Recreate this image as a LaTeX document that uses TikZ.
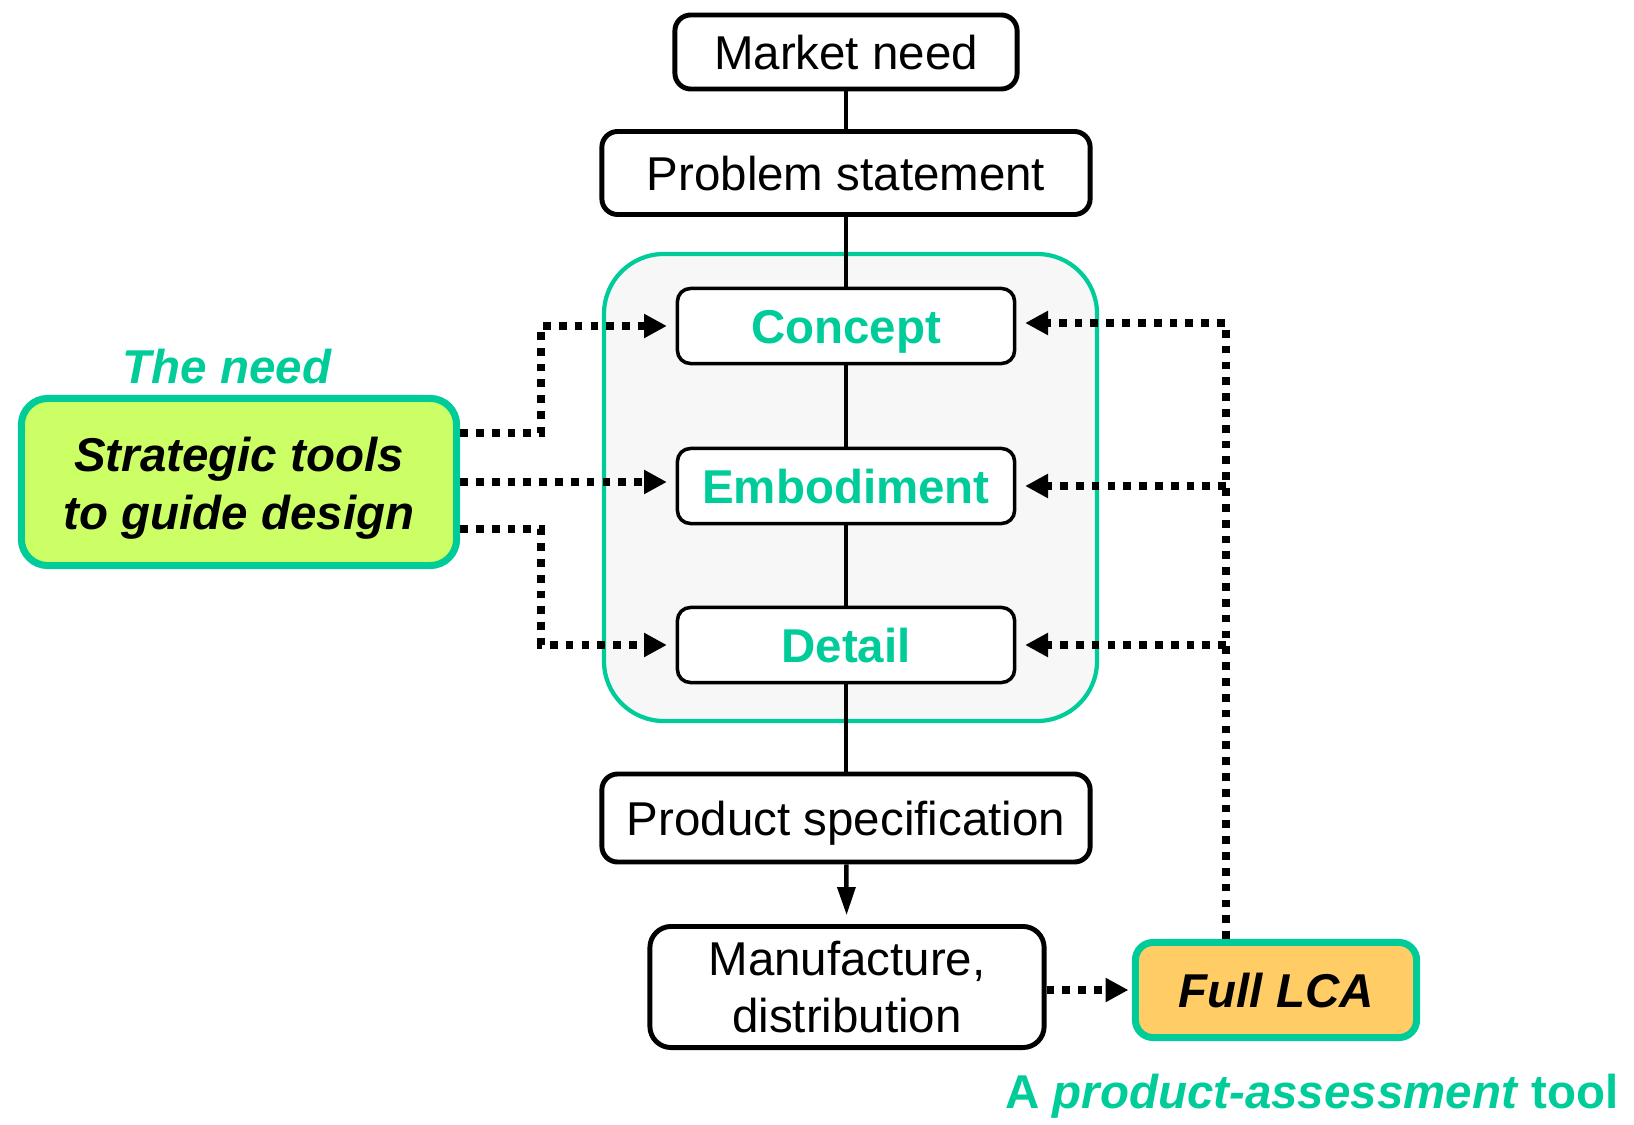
\documentclass[tikz,border=0pt]{standalone}
\usepackage{fontspec}
\setmainfont{Liberation Sans}
\usetikzlibrary{arrows.meta,positioning}

\definecolor{lcagreen}{RGB}{0,204,153}
\definecolor{limefill}{RGB}{204,255,102}
\definecolor{orangefill}{RGB}{255,204,102}
\definecolor{panelgrey}{RGB}{247,247,247}

\newcommand{\diagfont}{\fontsize{13.5pt}{16pt}\selectfont}

\tikzset{
  stepbox/.style={draw, line width=1.4pt, rounded corners=4.5pt, fill=white,
    align=center, inner sep=0pt, font=\diagfont},
  oneline/.style={text height=9.9pt, text depth=0pt},
  stagebox/.style={draw, line width=1pt, rounded corners=3.7pt, fill=white,
    inner sep=0pt, minimum width=3.37cm, minimum height=0.75cm, oneline,
    text=lcagreen, font=\diagfont\bfseries},
  toolbox/.style={draw=lcagreen, line width=2pt, align=center, inner sep=0pt,
    font=\diagfont\bfseries\itshape},
  greenlabel/.style={text=lcagreen, inner sep=0pt, font=\diagfont\bfseries},
  link/.style={line width=1.3pt},
  feed/.style={line width=2.2pt, dash pattern=on 2.2pt off 2.3pt,
    -{Triangle[length=6.5pt,width=6.5pt]}, shorten >=2.5pt}
}

\begin{document}
\begin{tikzpicture}[x=0.01cm, y=-0.01cm]
    \useasboundingbox (0,0) rectangle (1634,1125);

    \def \cx {846} % x of the main column

    % design stages panel
    \draw[draw=lcagreen, line width=1.2pt, fill=panelgrey, rounded corners=17pt]
      (604,254) rectangle (1097,721);

    \node[stepbox, oneline, minimum width=3.42cm, minimum height=0.74cm] (market) at (\cx,52) {Market need};
    \node[stepbox, oneline, minimum width=4.88cm, minimum height=0.83cm] (problem) at (\cx,173) {Problem statement};

    \foreach \name/\y/\txt in {concept/326/Concept, embod/486/Embodiment, detail/645/Detail}
    {
      \node[stagebox] (\name) at (\cx,\y) {\txt};
    }

    \node[stepbox, oneline, minimum width=4.88cm, minimum height=0.88cm] (spec) at (\cx,818) {Product specification};
    \node[stepbox, minimum width=3.94cm, minimum height=1.21cm, rounded corners=6pt] (manuf) at (847,987)
      {Manufacture,\\distribution};

    \node[toolbox, fill=limefill, rounded corners=7.5pt, minimum width=4.35cm, minimum height=1.67cm]
      (tools) at (239,482) {\raisebox{-5.4pt}[0pt][0pt]{\parbox{4cm}{\centering\baselineskip=16.5pt Strategic tools\\to guide design}}};
    \node[greenlabel] (needlabel) at (227,367) {\itshape The need};

    \node[toolbox, oneline, fill=orangefill, rounded corners=5pt, minimum width=2.81cm, minimum height=0.95cm]
      (lca) at (1276,990) {Full LCA};
    \node[greenlabel] (assesslabel) at (1312,1096) {A \textit{product-assessment} tool};

    % main flow
    \draw[link] (market) -- (problem);
    \draw[link] (problem) -- (concept);
    \draw[link] (concept) -- (embod);
    \draw[link] (embod) -- (detail);
    \draw[link] (detail) -- (spec);
    \draw[link, -{Triangle[length=8pt,width=5pt]}, shorten >=2.5pt] (spec) -- (manuf);

    % strategic tools feed the stages
    \coordinate (jl) at (541,0);
    \draw[feed] ([yshift=0.49cm]tools.east) -| (jl |- concept.west) -- (concept.west);
    \draw[feed] (tools.east) -- (tools.east -| embod.west);
    \draw[feed] ([yshift=-0.47cm]tools.east) -| (jl |- detail.west) -- (detail.west);

    % full LCA feeds back
    \coordinate (jr) at (1226,0);
    \draw[feed, shorten >=1pt] (manuf.east |- lca.west) -- (lca.west);
    \draw[feed] (lca.north -| jr) |- ([yshift=0.03cm]concept.east);
    \draw[feed] (jr |- embod.east) -- (embod.east);
    \draw[feed] (jr |- detail.east) -- (detail.east);
\end{tikzpicture}
\end{document}
